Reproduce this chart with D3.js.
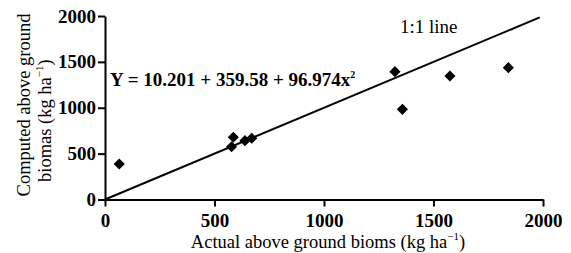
<!DOCTYPE html>
<html>
<head>
<meta charset="utf-8">
<script src="https://cdn.jsdelivr.net/npm/d3@7"></script>
<style>
  body { margin: 0; background: #fff; }
  svg { display: block; }
  text { font-family: "Liberation Serif", "Times New Roman", serif; fill: #000; }
</style>
</head>
<body>
<svg></svg>
<script>
const width = 571;
const height = 253;

// values
const actual = [65, 578, 586, 639, 670, 1324, 1358, 1575, 1842];
const computed = [387, 575, 678, 641, 667, 1393, 983, 1346, 1437];
const oneToOne = [0, 1985];
const xTicks = [0, 500, 1000, 1500, 2000];
const yTicks = [0, 500, 1000, 1500, 2000];

const svg = d3.select("svg")
  .attr("width", width)
  .attr("height", height);

const x = d3.scaleLinear().domain([0, 2000]).range([105, 543]);
const y = d3.scaleLinear().domain([0, 2000]).range([199.5, 16]);

// 1:1 line
svg.append("line")
  .attr("x1", x(oneToOne[0]))
  .attr("y1", y(oneToOne[0]))
  .attr("x2", x(oneToOne[1]))
  .attr("y2", y(oneToOne[1]))
  .attr("stroke", "#000")
  .attr("stroke-width", 2);

// axes
const xAxis = svg.append("g")
  .attr("transform", `translate(0,${y(0)})`)
  .call(d3.axisBottom(x).tickValues(xTicks).tickFormat(d3.format("d")).tickSize(7).tickSizeOuter(0));

const yAxis = svg.append("g")
  .attr("transform", `translate(${x(0)},0)`)
  .call(d3.axisLeft(y).tickValues(yTicks).tickFormat(d3.format("d")).tickSize(7).tickSizeOuter(0));

[xAxis, yAxis].forEach(g => {
  g.select(".domain").attr("stroke-width", 2);
  g.selectAll(".tick line").attr("stroke-width", 2);
  g.selectAll(".tick text")
    .attr("font-family", null)
    .style("font-size", "19px")
    .style("font-weight", "bold");
});
xAxis.selectAll(".tick text").attr("dy", null).attr("y", 27.5);
yAxis.selectAll(".tick text").attr("x", -9);

// points
svg.selectAll(".pt")
  .data(actual.map((a, i) => [a, computed[i]]))
  .enter()
  .append("path")
  .attr("class", "pt")
  .attr("d", d3.symbol(d3.symbolSquare, 62))
  .attr("transform", d => `translate(${x(d[0])},${y(d[1])}) rotate(45)`)
  .attr("fill", "#000");

// labels
svg.append("text")
  .attr("x", 400)
  .attr("y", 32.5)
  .style("font-size", "19px")
  .text("1:1 line");

const eq = svg.append("text")
  .attr("x", 110)
  .attr("y", 86)
  .style("font-size", "19px")
  .style("font-weight", "bold");
eq.append("tspan").text("Y = 10.201 + 359.58 + 96.974x");
eq.append("tspan").attr("dy", -8).style("font-size", "10px").text("2");

const xt = svg.append("text")
  .attr("x", 328)
  .attr("y", 248)
  .attr("text-anchor", "middle")
  .style("font-size", "18.5px");
xt.append("tspan").text("Actual above ground bioms (kg ha");
xt.append("tspan").attr("dy", -8).style("font-size", "11px").text("\u22121");
xt.append("tspan").attr("dy", 8).text(")");

svg.append("text")
  .attr("transform", "translate(30,105) rotate(-90)")
  .attr("text-anchor", "middle")
  .style("font-size", "18.5px")
  .text("Computed above ground");

const yt = svg.append("text")
  .attr("transform", "translate(51,182) rotate(-90)")
  .style("font-size", "18.5px");
yt.append("tspan").text("biomas (kg ha");
yt.append("tspan").attr("dy", -8).style("font-size", "11px").text("\u22121");
yt.append("tspan").attr("dy", 8).text(")");
</script>
</body>
</html>
